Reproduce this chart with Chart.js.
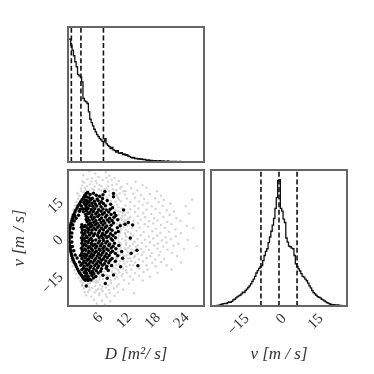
<!DOCTYPE html>
<html>
<head>
<meta charset="utf-8">
<title>Corner plot</title>
<script src="https://cdn.jsdelivr.net/npm/chart.js@4"></script>
<style>
  html, body { margin: 0; padding: 0; background: #fff; }
  canvas { position: absolute; left: 0; top: 0; }
</style>
</head>
<body>
<canvas id="topHist" width="374" height="374"></canvas>
<canvas id="scatter" width="374" height="374"></canvas>
<canvas id="rightHist" width="374" height="374"></canvas>
<script>
// ===== DATA =====
const dTicks = [6, 12, 18, 24];
const vTicks = [-15, 0, 15];
const dQuantiles = [0.7, 2.7, 7.4];
const vQuantiles = [-7.3, 0, 7.3];

// histogram counts, 100 bins each
const dBinStart = 0, dBinWidth = 0.284;
const dCounts = [368, 368, 350, 335, 318, 300, 285, 262, 258, 255,
  240, 190, 183, 180, 175, 150, 128, 118, 108, 98,
  90, 82, 76, 70, 66, 62, 60, 70, 54, 50,
  46, 40, 44, 36, 34, 30, 34, 27, 26, 28,
  22, 24, 20, 22, 18, 16, 14, 12, 14, 10,
  11, 9, 10, 8, 9, 7, 8, 6, 5, 6,
  4, 5, 4, 3, 4, 3, 3, 4, 3, 2,
  3, 2, 2, 3, 2, 1, 2, 2, 1, 2,
  1, 1, 2, 1, 1, 0, 1, 1, 0, 1,
  0, 1, 0, 0, 1, 0, 0, 1, 0, 0];
const vBinStart = -27.5, vBinWidth = 0.55;
const vCounts = [0, 0, 1, 1, 2, 2, 3, 5, 6, 7,
  8, 7, 10, 12, 11, 14, 18, 20, 24, 27,
  30, 32, 36, 41, 40, 46, 50, 55, 60, 66,
  73, 80, 88, 98, 105, 112, 116, 120, 135, 150,
  162, 170, 188, 205, 222, 240, 260, 290, 322, 372,
  375, 290, 282, 258, 248, 202, 190, 178, 176, 172,
  170, 150, 125, 118, 110, 104, 96, 88, 86, 80,
  75, 68, 60, 54, 46, 40, 36, 32, 28, 26,
  24, 20, 18, 15, 12, 10, 8, 6, 5, 4,
  4, 3, 3, 3, 2, 2, 1, 1, 0, 0];

// [D, v] samples, the black ones on top
const blackEdge = [[0.2,0],[0.2,0.5],[0.2,-0.6],[0.2,1.1],[0.2,-1.2],[0.25,1.8],[0.25,-2],[0.3,2.6],[0.3,-2.9],[0.35,3.5],[0.4,-3.8],
  [0.45,4.4],[0.5,-4.7],[0.55,5.3],[0.6,-5.6],[0.65,6.1],[0.7,-6.5],[0.8,7],[0.8,-7.3],[0.9,7.8],[0.95,-8.2],[1.05,8.7],[1.1,-9],
  [1.25,9.6],[1.3,-9.9],[1.45,10.5],[1.55,-10.7],[1.65,11.3],[1.75,-11.6],[1.9,12.1],[2,-12.5],[2.1,13],[2.25,-13.4],[2.4,13.9],
  [2.5,-14.3],[2.65,14.7],[2.8,-15.1],[2.95,15.6],[3.05,-15.8],[3.3,16.5],[3.3,-16.5],[3.5,17.2],[3.6,-17.1],[3.8,18],[1.1,3.8],
  [1,5.4],[1.3,6.9],[1.7,8],[2.2,9.2],[0.8,2],[0.75,0.4],[0.8,-1.6],[0.9,-3.4],[1.2,-5.2],[1.5,-6.9],[1.9,-8.1],[2.4,-9.7],[2.7,-11],
  [2.9,-12.8],[3.4,-14],[3.1,11.8],[3.5,13.6],[2.8,12.9],[1.4,8.9],[2.6,-7.1]];
const blackBody = [[4.1,18.4],[4.6,17.6],[5.3,18.1],[5.9,17.3],[7.7,18.8],[7.3,17.5],[9.5,18],[9.5,16.7],[6.6,16.9],
  [3.9,16.6],[4.4,16.3],[5.1,16.1],[6.1,15.8],[7.2,16],[3.6,15.3],[4,15.1],[4.7,15.4],[5.5,14.9],[6.3,15.1],[7,14.7],[8.2,15.2],
  [3.3,14.4],[3.9,13.9],[4.3,14.5],[5,14.1],[5.7,13.7],[6.6,13.9],[7.4,14],[8.9,13.6],[3.8,12.7],[4.5,13.1],[5.2,12.8],[6,12.9],
  [6.9,12.6],[7.8,13],[9.3,12.2],[2.6,11.6],[3.6,11.7],[4.2,11.9],[4.9,11.5],[5.6,11.8],[6.4,11.4],[7.3,11.7],[8,11.3],[8.8,11.6],[11.6,11.3],
  [2.4,10.8],[3.2,10.6],[3.9,10.9],[4.6,10.5],[5.3,10.7],[6.1,10.4],[6.9,10.8],[7.6,10.2],[8.5,10.5],[9.7,10.1],[3.7,9.6],[4.3,9.9],
  [5,9.4],[5.8,9.7],[6.5,9.3],[7.2,9.6],[8.1,9.2],[9,9.5],[10,9.1],[3.8,8.8],[4.1,8.2],[4.8,8.6],[5.5,8.3],[6.2,8.7],[7,8.1],
  [7.8,8.5],[8.7,8],[9.6,8.4],[3.8,7.5],[4.4,7.2],[5.1,7.6],[5.8,7.1],[6.6,7.4],[7.4,7],[8.2,7.3],[9.2,7.1],[10.4,7.4],[4,6.6],[4.7,6.1],[5.4,6.4],[6.1,6],[6.9,6.3],[7.7,6.1],[8.6,6.5],[9.5,6.1],[12.6,6.3],[11.9,5.6],[2.9,5.4],[3.6,5.1],[4.3,5.5],[5,5.2],
  [5.7,5.4],[6.5,5],[7.3,5.3],[8.1,4.9],[9,5.2],[10.9,5],[13.5,5.3],[2.8,4.3],[3.4,4.6],[4,4.1],[4.7,4.4],[5.4,4],[6.2,4.3],[7,3.9],
  [7.8,4.2],[8.7,3.8],[10.3,4.1],[3,3.3],[3.6,3],[4.3,3.4],[5,3.1],[5.8,3.3],[6.6,2.9],[7.4,3.2],[8.3,2.8],[9.2,3.1],[10.5,2.6],
  [2.9,2.2],[3.5,1.9],[4.2,2.3],[4.9,2],[5.6,1.7],[6.4,2.1],[7.2,1.8],[8,2.2],[8.9,1.7],[9.9,2],[3.1,1.1],[3.8,0.8],[4.5,1.2],[5.3,0.9],[6.2,1],[7,0.9],[7.7,1.1],
  [8.5,0.7],[9.4,1],[2.8,0],[3.4,-0.2],[4,0.2],[4.8,-0.1],[6.5,0.1],[7.3,-0.1],[8.1,0.2],[9,-0.3],[9.9,0.1],[13,0],[3,-1],[3.7,-1.3],[4.4,-0.9],[5.1,-1.1],
  [5.8,-0.8],[6.6,-1.2],[7.4,-1],[8.2,-1.3],[9.3,-0.9],[2.9,-2.1],[3.5,-2.4],[4.2,-1.9],[4.9,-2.2],[5.6,-2.5],[6.3,-2],[7.1,-2.3],[7.9,-2],
  [8.7,-2.4],[9.7,-2.1],[3.1,-3.2],[3.8,-3],[4.5,-3.4],[5.2,-3],[6,-3.3],[6.8,-3.1],[7.6,-3.4],[8.5,-3],[9.4,-3.3],[10.6,-3],[2.8,-4.1],[3.5,-4.4],
  [4.2,-4],[4.9,-4.3],[5.7,-4],[6.5,-4.4],[7.3,-4.1],[8.1,-4.4],[9,-4],[10,-4.3],[3,-5.2],[3.7,-5],[4.4,-5.4],[5.1,-5.1],[5.9,-5.4],[6.7,-5],
  [7.5,-5.3],[8.4,-5],[9.3,-5.4],[11.2,-5.5],[14.4,-5],[2.9,-6.2],[3.5,-6.5],[4.2,-6.1],[4.9,-6.4],[5.6,-6],[6.4,-6.3],[7.2,-6.1],[8,-6.4],
  [8.9,-6],[9.9,-6.3],[13.2,-6.2],[3.2,-7.3],[3.9,-7.1],[4.6,-7.4],[5.3,-7],[6.1,-7.3],[6.9,-7],[7.7,-7.4],[8.6,-7.1],[10.4,-7.2],[2.9,-8.3],[3.6,-8.1],
  [4.3,-8.4],[5,-8],[5.8,-8.3],[6.6,-8.1],[7.4,-8.4],[8.2,-8],[9.2,-8.3],[11.4,-8.2],[3.3,-9.3],[4,-9],[4.7,-9.4],[5.5,-9.1],[6.3,-9.4],[7,-9],
  [7.9,-9.3],[8.8,-9],[9.9,-9.4],[3,-10.3],[3.7,-10.1],[4.4,-10.4],[5.2,-10],[6,-10.3],[6.8,-10.1],[7.6,-10.4],[8.5,-10],[3.4,-11.4],[4.1,-11],
  [4.8,-11.4],[5.6,-11.1],[6.4,-11.3],[7.2,-11],[8.1,-11.4],[9.1,-11.1],[14.6,-11.2],[11,-11.6],[3.2,-12.3],[3.9,-12.5],[4.6,-12.1],[5.4,-12.4],[6.2,-12],
  [7,-12.4],[8,-12.2],[3.7,-13.3],[4.4,-13.1],[5.1,-13.5],[5.9,-13.2],[6.8,-13.4],[8.4,-13.1],[3.9,-14.4],[4.7,-14.2],[5.4,-14.5],[6.3,-14.2],
  [9.5,-15],[3.6,-15.3],[4.2,-15.5],[5,-15.2],[5.8,-15.6],[7.3,-15.1],[3.9,-16.3],[4.5,-16.6],[5.3,-16.2],[8.2,-16.3],[4.2,-17.2],[4.8,-17],[3.8,-19.4],[7.8,-18.4]];
const grayCloud = [[3.2,25.4],[4.5,27],[5.7,26.1],[7.9,26.6],[8.6,25.2],[9.7,24.3],[6.4,24.7],[4.1,23.8],[5,24.2],[3,22.9],[7.2,23.5],
  [8.3,22.7],[10.6,23.1],[12.4,21.9],[15.6,21.4],[14.1,22.8],[2.9,21.2],[4.6,21.7],[6,22.1],[7,20.9],[9.2,21.4],[11.2,20.7],[13.2,20.1],[16.4,20.3],
  [3.5,20.2],[5.1,19.9],[6.4,19.6],[8.1,20],[10.1,19.4],[12,19],[14.5,19.2],[18.6,18.9],[10.8,18],[11.9,17.6],[13.6,17.9],[15.2,17.4],[17.1,17.8],
  [19.4,17.1],[2.8,18.9],[2.4,17.2],[2.1,15.9],[10.4,16.4],[12.3,16],[14,16.3],[15.9,15.8],[18.2,16.1],[20,15.4],[25.9,15.6],[11,14.9],[13,14.5],
  [14.8,14.8],[16.6,14.2],[18.9,14.5],[21.4,13.9],[10.2,13.5],[12,13.2],[13.9,13],[15.6,13.4],[17.5,12.8],[19.8,13],[24.6,12.9],[11.2,12],[13,11.7],
  [14.7,11.9],[16.4,11.4],[18.3,11.7],[20.6,11.2],[22.1,10.7],[10.9,10.5],[12.5,10.2],[14,10.5],[15.7,10],[17.4,9.7],[19.2,10.1],[21.2,9.4],[25.3,9.9],
  [11.3,8.9],[13,8.6],[14.6,8.8],[16.1,8.4],[18,8],[19.9,8.5],[22.6,8.1],[12,7.2],[13.7,7],[15.2,7.4],[16.9,6.8],[18.7,7.1],[20.7,6.6],[23.5,6.9],
  [10.8,6],[14.6,6],[16,5.6],[17.8,5.9],[19.4,5.3],[21.6,5.6],[24.8,5],[11.6,4.4],[13.4,3.9],[15,4.2],[16.7,4.5],[18.4,3.8],[20.2,4.1],[22.4,3.5],
  [26.2,4],[11,3],[12.5,2.5],[14.3,2.9],[15.8,2.4],[17.6,2.7],[19.3,2.1],[21.1,2.5],[23.6,1.9],[10.7,1],[12,1.3],[13.6,0.9],[15.2,1.2],[16.9,0.6],[18.6,1],
  [20.4,0.3],[22.5,0.7],[11.3,-0.3],[14.5,-0.4],[16.1,-0.7],[17.8,-0.2],[19.6,-0.9],[21.5,-0.5],[25,-0.8],[10.6,-1.6],[12.2,-1.9],[13.9,-1.5],[15.4,-2],
  [17.1,-1.7],[18.8,-2.2],[20.6,-1.8],[23.1,-2.3],[11,-2.8],[12.9,-3.2],[14.6,-2.9],[16.3,-3.4],[18,-3],[19.9,-3.5],[22,-3.1],[26.9,-3.2],[11.9,-4.2],
  [13.3,-4.6],[15.2,-4.4],[16.9,-4.8],[18.7,-4.3],[20.8,-4.7],[24.2,-4.4],[10.4,-5.6],[12.5,-5.8],[15.8,-5.7],[17.5,-6.1],[19.3,-5.6],[21.7,-6],[10.9,-6.8],
  [12.2,-7],[14,-7.3],[15.4,-6.9],[17.2,-7.4],[19,-7],[22.8,-7.3],[13,-8.3],[14.8,-8.6],[16.4,-8.2],[18.2,-8.7],[20.1,-8.4],[10.8,-9.3],[12.4,-9.6],[14,-9.9],
  [15.7,-9.5],[17.6,-10],[19.4,-9.7],[23.6,-9.9],[10.7,-10.6],[12.9,-10.9],[16.4,-11],[18.3,-11.4],[20.6,-11],[9.9,-12.3],[11.5,-12.4],[13.2,-12.7],[14.9,-12.3],
  [16.6,-12.8],[21.6,-12.7],[9.2,-13.7],[10.7,-13.9],[12.3,-14],[14,-14.2],[15.8,-13.8],[18.7,-14.1],[8.1,-14.9],[11.2,-15.4],[13,-15.6],[14.8,-15.3],[17.1,-15.7],
  [2.9,-16.9],[3.1,-18],[6.6,-16.8],[9.8,-16.6],[11.7,-17],[13.6,-16.9],[15.6,-17.2],[2.9,-19.3],[4.6,-18.3],[5.8,-18],[6.7,-19],[9,-18.2],[10.6,-18.7],[12.7,-18.4],
  [3.3,-20.4],[5,-20.1],[6.3,-20.6],[7.9,-20],[9.6,-20.4],[11.5,-20.8],[4.2,-21.7],[5.6,-22],[7.2,-21.5],[8.7,-22.2],[10.4,-21.9],[13.8,-22.3],[3.8,-23.2],[4.9,-23.7],
  [6.5,-23.2],[8.1,-23.9],[9.7,-23.4],[5.4,-25],[7.1,-25.3],[8.8,-25.6],[6,-26.6],[7.7,-26.9]];
const grayHalo = [[3.7,19.3],[4.4,19.1],[5.4,19.4],[6.9,19.2],[7.6,19.6],[8.6,19],[9.4,19.7],[4,20.9],[5.6,20.8],[6.6,21.4],[8.4,21],[3.4,22.3],
  [4.9,22.8],[5.8,23.1],[8,24.4],[9.1,23.6],[10.2,21.8],[10.9,20],[11.6,18.9],[10.2,17.4],[8.6,17.4],[8.1,16.4],[9,15],[9.9,14.7],[10.6,15.6],[8.2,14.3],[9.6,13],[10.5,12.4],
  [9.9,11.4],[10.5,11],[11.4,10],[10.6,9.4],[11.9,9.2],[11,8],[9.9,7.7],[11.3,7.3],[12.6,7.9],[11.7,6.6],[10.2,5.7],[12.4,5],[11.3,5.5],[11.1,3.7],[12.1,3.4],[10.9,2],[11.9,2],[13.1,1.7],[10.5,-0.2],[12.2,0.4],
  [12,-0.9],[13,-0.8],[10.9,-2.1],[12.1,-2.7],[13.6,-2.4],[11,-3.8],[12.6,-4],[14.2,-3.6],[10.8,-4.7],[12.2,-4.8],[13.8,-5.4],[11.4,-6.4],[12.9,-6.8],[14.6,-6.4],[10.1,-7.9],[11.7,-7.4],[12.5,-8.2],[13.8,-7.9],
  [10.2,-8.6],[11.6,-9.2],[13.2,-9.4],[9.6,-10],[10.1,-10.8],[11.8,-10.4],[13.6,-11],[9.4,-11.8],[12.2,-11.5],[8.7,-12.9],[10.4,-12.9],[12.1,-13],[7.6,-13.6],[9.9,-14.2],[11.4,-14.6],[6.9,-14.4],[8.6,-15.4],[10.2,-15.7],
  [6.6,-15.8],[7.3,-16.6],[8.9,-17.1],[5.9,-17.1],[5.3,-17.6],[6.3,-17.8],[3,-19],[4.1,-18.7],[4.4,-19.8],[5.7,-19.3],[7.2,-19.6],[8.4,-19.1],[10.2,-19.6],[4.5,-20.9],[5.9,-21.2],[7,-20.6],[8.6,-21],[3.5,-21.9],[6.6,-22.4],[7.9,-22.8],
  [2.6,-17.6],[2.2,-16.1],[1.7,-14.6],[1.4,-13],[1,-11.4],[0.7,-9.5],[1.5,13.1],[1.1,11.4],[0.8,9.6],[1.8,14.6],[2.7,19.9],[3.3,18.4],[2,18.1]];

const dRange = [0, 28.4];
const vRange = [-27.5, 27.5];
const histMax = 404;

// ===== SHARED PIECES =====
const frameColor = "#666";
const inkColor = "#111";
const tickFont = { family: "'Liberation Serif'", size: 15 };
const titleFont = { family: "'Liberation Serif'", size: 17, style: "italic" };

const plotFrame = {
  id: "plotFrame",
  afterDraw(chart) {
    const { ctx, chartArea: a } = chart;
    ctx.save();
    ctx.strokeStyle = frameColor;
    ctx.lineWidth = 2;
    ctx.strokeRect(a.left, a.top, a.right - a.left, a.bottom - a.top);
    ctx.restore();
  },
};

function stepData(counts, start, width) {
  return counts.map((c, i) => ({ x: start + width * (i + 0.5), y: c }));
}

function quantileSets(values) {
  return values.map((q) => ({
    data: [{ x: q, y: 0 }, { x: q, y: histMax }],
    showLine: true,
    borderColor: inkColor,
    borderWidth: 1.6,
    borderDash: [5, 2.6],
    pointRadius: 0,
  }));
}

function minusLabel(value) {
  return String(value).replace("-", "\u2212");
}

function tickAxis(range, ticks, title, titlePad, labelOffset, tickPad) {
  return {
    type: "linear",
    min: range[0],
    max: range[1],
    grid: { display: false, drawTicks: false },
    border: { display: false },
    afterBuildTicks: (s) => { s.ticks = ticks.map((value) => ({ value })); },
    afterFit: (s) => {
      if (s.isHorizontal()) s.height = 68; else s.width = 68;
    },
    ticks: {
      autoSkip: false,
      minRotation: 45,
      maxRotation: 45,
      labelOffset,
      padding: tickPad,
      color: "#333",
      font: tickFont,
      callback: minusLabel,
    },
    title: { display: true, text: title, color: "#333", font: titleFont, padding: titlePad },
  };
}

const baseOptions = {
  responsive: false,
  animation: false,
  events: [],
  plugins: { legend: { display: false }, tooltip: { enabled: false } },
};

// ===== TOP HISTOGRAM: D =====
new Chart(document.getElementById("topHist"), {
  type: "scatter",
  data: {
    datasets: [
      {
        data: stepData(dCounts, dBinStart, dBinWidth),
        showLine: true,
        stepped: "middle",
        borderColor: inkColor,
        borderWidth: 1.3,
        pointRadius: 0,
      },
      ...quantileSets(dQuantiles),
    ],
  },
  options: {
    ...baseOptions,
    layout: { padding: { left: 68, right: 170, top: 27, bottom: 212 } },
    scales: {
      x: { display: false, type: "linear", min: dRange[0], max: dRange[1] },
      y: { display: false, type: "linear", min: 0, max: histMax },
    },
  },
  plugins: [plotFrame],
});

// ===== SCATTER: D vs v =====
new Chart(document.getElementById("scatter"), {
  type: "scatter",
  data: {
    datasets: [
      {
        data: blackEdge.concat(blackBody).map((p) => ({ x: p[0], y: p[1] })),
        pointRadius: 1.75,
        pointBorderWidth: 0,
        pointBackgroundColor: "#000",
      },
      {
        data: grayCloud.concat(grayHalo).map((p) => ({ x: p[0], y: p[1] })),
        pointRadius: 1.2,
        pointBorderWidth: 0,
        pointBackgroundColor: "rgba(0,0,0,0.17)",
      },
    ],
  },
  options: {
    ...baseOptions,
    layout: { padding: { left: 0, right: 170, top: 170, bottom: 0 } },
    scales: {
      x: tickAxis(dRange, dTicks, "D [m\u00B2/ s]", { top: 0, bottom: 9 }, 4, 3),
      y: tickAxis(vRange, vTicks, "v [m / s]", { top: 9, bottom: 0 }, 0, 7),
    },
  },
  plugins: [plotFrame],
});

// ===== RIGHT HISTOGRAM: v =====
new Chart(document.getElementById("rightHist"), {
  type: "scatter",
  data: {
    datasets: [
      {
        data: stepData(vCounts, vBinStart, vBinWidth),
        showLine: true,
        stepped: "middle",
        borderColor: inkColor,
        borderWidth: 1.3,
        pointRadius: 0,
      },
      ...quantileSets(vQuantiles),
    ],
  },
  options: {
    ...baseOptions,
    layout: { padding: { left: 211, right: 27, top: 170, bottom: 0 } },
    scales: {
      x: tickAxis(vRange, vTicks, "v [m / s]", { top: 0, bottom: 9 }, 5, 4),
      y: { display: false, type: "linear", min: 0, max: histMax },
    },
  },
  plugins: [plotFrame],
});
</script>
</body>
</html>
